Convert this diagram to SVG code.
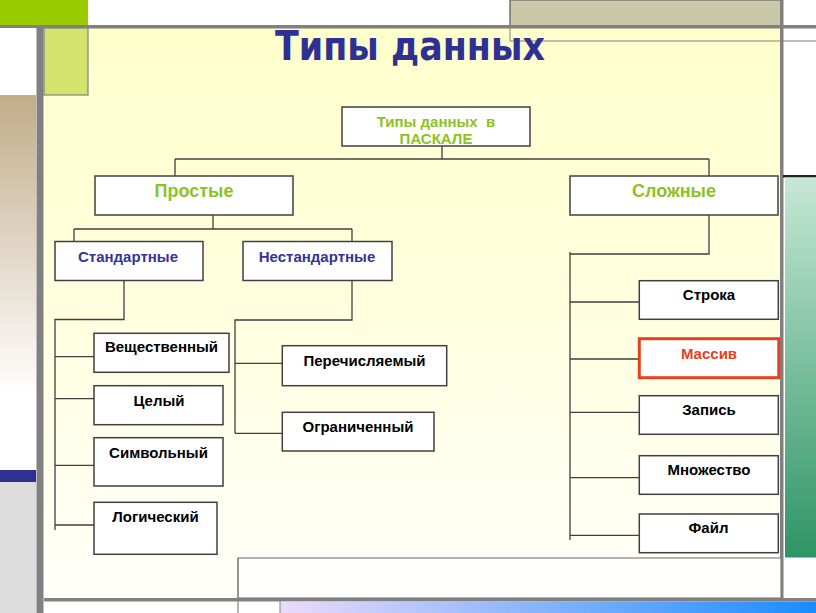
<svg xmlns="http://www.w3.org/2000/svg" width="816" height="613" viewBox="0 0 816 613">
<defs>
<linearGradient id="bg" x1="0" y1="0" x2="0" y2="1">
<stop offset="0" stop-color="#FFFFCC"/><stop offset="0.55" stop-color="#FFFFE2"/><stop offset="1" stop-color="#FFFFFA"/>
</linearGradient>
<linearGradient id="tan" x1="0" y1="0" x2="0" y2="1">
<stop offset="0" stop-color="#C2AC8A"/><stop offset="0.8" stop-color="#FFFFFF"/><stop offset="1" stop-color="#FFFFFF"/>
</linearGradient>
<linearGradient id="grn" x1="0" y1="0" x2="0" y2="1">
<stop offset="0" stop-color="#C6E8D6"/><stop offset="1" stop-color="#2E9466"/>
</linearGradient>
<linearGradient id="blu" x1="0" y1="0" x2="1" y2="0">
<stop offset="0" stop-color="#ECDAFA"/><stop offset="1" stop-color="#1A8CFF"/>
</linearGradient>
<style>
.box{fill:#fff;stroke:#404040;stroke-width:1.5}
.con{fill:none;stroke:#404040;stroke-width:1.3}
.lbl{font-family:"Liberation Sans",Arial,sans-serif;font-weight:bold;font-size:15px;fill:#000;text-anchor:middle}
.blue{fill:#333399}
.green{fill:#8DC21F}
.big{font-size:18px}
</style>
</defs>
<!-- background decoration -->
<rect x="0" y="0" width="816" height="613" fill="#fff"/>
<rect x="44" y="28" width="737" height="571" fill="url(#bg)"/>
<rect x="0" y="0" width="88" height="26" fill="#99CC00"/>
<rect x="510" y="0" width="271" height="26" fill="#C9C8A8" stroke="#555" stroke-width="1"/>
<line x1="510" y1="0" x2="510" y2="41" stroke="#808080" stroke-width="1"/>
<line x1="510" y1="41" x2="816" y2="41" stroke="#808080" stroke-width="1.2"/>
<rect x="0" y="25" width="816" height="3.5" fill="#808080"/>
<rect x="0" y="28" width="36" height="66" fill="#fff"/>
<rect x="44" y="28" width="44" height="67" fill="#D3E46C" stroke="#808080" stroke-width="1.2"/>
<rect x="0" y="95" width="36" height="375" fill="url(#tan)"/>
<rect x="0" y="470" width="36" height="12" fill="#2E3192"/>
<rect x="0" y="482" width="36" height="131" fill="#DCDCDC"/>
<rect x="36.5" y="28" width="7" height="585" fill="#808080"/>
<rect x="780" y="0" width="3.5" height="600" fill="#808080"/>
<rect x="783" y="175" width="33" height="2.5" fill="#222"/>
<rect x="785" y="177.5" width="31" height="380" fill="url(#grn)"/>
<rect x="238" y="558" width="543" height="40" fill="#FFFFFD" stroke="#808080" stroke-width="1.2"/>
<rect x="44" y="598" width="772" height="3.5" fill="#808080"/>
<rect x="280" y="601.5" width="536" height="11.5" fill="url(#blu)"/>
<line x1="238" y1="558" x2="238" y2="613" stroke="#808080" stroke-width="1.2"/>
<line x1="280" y1="601" x2="280" y2="613" stroke="#808080" stroke-width="1"/>
<text x="410" y="60" textLength="270" lengthAdjust="spacingAndGlyphs" style="font-family:'DejaVu Sans',Verdana,sans-serif;font-weight:bold;font-size:40px;fill:#2E3192;text-anchor:middle">Типы данных</text>
<!-- connectors -->
<g id="connectors" class="con">
<path d="M442 146V159M175 159H709M175 159V176M709 159V176"/>
<path d="M213 215V229M74 229H352M74 229V241.5M352 229V241.5"/>
<path d="M124 281V319.5H55V530M55 356.7H94M55 398.7H94M55 465.3H94M55 525H94"/>
<path d="M352 281V320H235V433.3M235 363.3H282M235 433.3H282"/>
<path d="M709 215V254H570M570 252V540M570 302H639M570 359H639M570 412.3H639M570 477.7H639M570 535.3H639"/>
</g>
<!-- nodes -->
<g id="root"><rect class="box" x="342" y="107" width="188" height="39"/>
<text class="lbl green" x="436" y="127" xml:space="preserve">Типы данных  в</text><text class="lbl green" x="436" y="144">ПАСКАЛЕ</text></g>
<g id="prostye"><rect class="box" x="95" y="176" width="198" height="39"/><text class="lbl green big" x="194" y="197">Простые</text></g>
<g id="slozhnye"><rect class="box" x="570" y="176" width="208" height="39"/><text class="lbl green big" x="674" y="197">Сложные</text></g>
<g id="standart"><rect class="box" x="55" y="241.5" width="148" height="39"/><text class="lbl blue" x="128" y="262">Стандартные</text></g>
<g id="nestandart"><rect class="box" x="243" y="241.5" width="149" height="39"/><text class="lbl blue" x="317" y="262">Нестандартные</text></g>
<g id="veshch"><rect class="box" x="94" y="333.3" width="135" height="39"/><text class="lbl" x="161.5" y="352">Вещественный</text></g>
<g id="celyj"><rect class="box" x="94" y="385.7" width="129" height="39"/><text class="lbl" x="159" y="406">Целый</text></g>
<g id="simv"><rect class="box" x="94" y="437.7" width="129" height="48.3"/><text class="lbl" x="158.5" y="458">Символьный</text></g>
<g id="logich"><rect class="box" x="94" y="502.3" width="123" height="52"/><text class="lbl" x="155.5" y="522">Логический</text></g>
<g id="perech"><rect class="box" x="282.3" y="345.7" width="164.4" height="40"/><text class="lbl" x="364.5" y="366">Перечисляемый</text></g>
<g id="ogran"><rect class="box" x="282.3" y="412.3" width="151.7" height="38.7"/><text class="lbl" x="358" y="432">Ограниченный</text></g>
<g id="stroka"><rect class="box" x="639.3" y="280.7" width="139" height="38.6"/><text class="lbl" x="709" y="300">Строка</text></g>
<g id="massiv"><rect x="639.3" y="338.7" width="139.5" height="39" fill="#fff" stroke="#E8401C" stroke-width="3"/><text class="lbl" style="fill:#E8401C" x="709" y="358.5">Массив</text></g>
<g id="zapis"><rect class="box" x="639.3" y="395.7" width="139" height="38.6"/><text class="lbl" x="709" y="415">Запись</text></g>
<g id="mnozh"><rect class="box" x="639.3" y="455.7" width="139" height="38.6"/><text class="lbl" x="709" y="474.5">Множество</text></g>
<g id="fajl"><rect class="box" x="639.3" y="514" width="139" height="38.7"/><text class="lbl" x="708.5" y="533">Файл</text></g>
</svg>
